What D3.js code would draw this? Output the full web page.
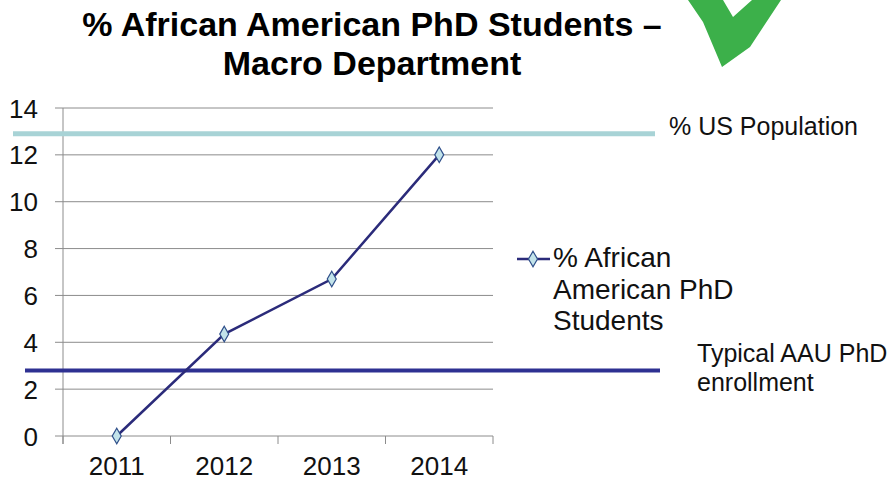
<!DOCTYPE html>
<html><head><meta charset="utf-8">
<script src="https://cdn.jsdelivr.net/npm/d3@7"></script>
<style>body{margin:0;background:#fff}svg{display:block}text{font-family:"Liberation Sans",Arial,sans-serif}</style>
</head><body>
<svg id="c" width="888" height="481"></svg>
<script>
const years = ["2011","2012","2013","2014"];
const values = [0, 4.35, 6.7, 12];
const yTicks = [0,2,4,6,8,10,12,14];
const seriesName = ["% African", "American PhD", "Students"];
const usPopulation = 12.9;
const aauTypical = 2.8;
const titleLines = ["% African American PhD Students \u2013", "Macro Department"];

const svg = d3.select("#c");
const pLeft = 63, pRight = 493, pTop = 108, pBottom = 436;
const x = d3.scaleBand().domain(years).range([pLeft, pRight]);
const y = d3.scaleLinear().domain([0,14]).range([pBottom, pTop]);

// title
svg.selectAll("text.title").data(titleLines).join("text")
  .attr("x", 372).attr("y", (d,i)=>36+i*39).attr("text-anchor","middle")
  .attr("font-size", 34).attr("font-weight","bold").attr("fill","#000").text(d=>d);

// checkmark
svg.append("path").attr("fill","#3cb04a")
  .attr("d","M688,0 L723,0 L733,17 L752,0 L781,0 L750,47 L722,67 L703,22 Z");

// grid
svg.append("g").selectAll("line").data(yTicks).join("line")
  .attr("x1", pLeft-8).attr("x2", pRight).attr("y1", d=>y(d)).attr("y2", d=>y(d))
  .attr("stroke","#8c8c8c").attr("stroke-width",1);
// y axis line
svg.append("line").attr("x1",pLeft).attr("x2",pLeft).attr("y1",pTop).attr("y2",pBottom+8)
  .attr("stroke","#8c8c8c");
// x ticks at boundaries
const bounds = years.map(d=>x(d)).concat([pRight]);
svg.append("g").selectAll("line").data(bounds).join("line")
  .attr("x1",d=>d).attr("x2",d=>d).attr("y1",pBottom).attr("y2",pBottom+8)
  .attr("stroke","#8c8c8c");

// y labels
svg.append("g").selectAll("text").data(yTicks).join("text")
  .attr("x", 38).attr("y", d=>y(d)+9.5).attr("text-anchor","end")
  .attr("font-size", 26).attr("fill","#111").text(d=>d);
// x labels
svg.append("g").selectAll("text").data(years).join("text")
  .attr("x", d=>x(d)+x.bandwidth()/2).attr("y", 475).attr("text-anchor","middle")
  .attr("font-size", 26).attr("fill","#111").text(d=>d);

// reference lines
svg.append("line").attr("x1",13).attr("x2",655).attr("y1",y(usPopulation)).attr("y2",y(usPopulation))
  .attr("stroke","#a8d3d6").attr("stroke-width",5);
svg.append("line").attr("x1",25).attr("x2",660).attr("y1",y(aauTypical)).attr("y2",y(aauTypical))
  .attr("stroke","#2e3192").attr("stroke-width",4);

// series line
const line = d3.line().x((d,i)=>x(years[i])+x.bandwidth()/2).y(d=>y(d));
svg.append("path").datum(values).attr("d",line).attr("fill","none")
  .attr("stroke","#2b2b7a").attr("stroke-width",2.5);
const diamond = d3.symbol().type(d3.symbolDiamond).size(70);
svg.append("g").selectAll("path").data(values).join("path")
  .attr("d", diamond)
  .attr("transform",(d,i)=>`translate(${x(years[i])+x.bandwidth()/2},${y(d)})`)
  .attr("fill","#c2e3ea").attr("stroke","#2f4f8a").attr("stroke-width",1.2);

// legend
svg.append("line").attr("x1",517).attr("x2",550).attr("y1",259).attr("y2",259)
  .attr("stroke","#2b2b7a").attr("stroke-width",2.5);
svg.append("path").attr("d",diamond).attr("transform","translate(533,259)")
  .attr("fill","#c2e3ea").attr("stroke","#2f4f8a").attr("stroke-width",1.2);
svg.append("g").selectAll("text").data(seriesName).join("text")
  .attr("x",553).attr("y",(d,i)=>267+i*31.5).attr("font-size",28).attr("fill","#111").text(d=>d);

// annotations
svg.append("text").attr("x",669).attr("y",135).attr("font-size",25).attr("fill","#111").text("% US Population");
svg.append("g").selectAll("text").data(["Typical AAU PhD","enrollment"]).join("text")
  .attr("x",697).attr("y",(d,i)=>362+i*29).attr("font-size",25).attr("fill","#111").text(d=>d);
</script>
</body></html>
